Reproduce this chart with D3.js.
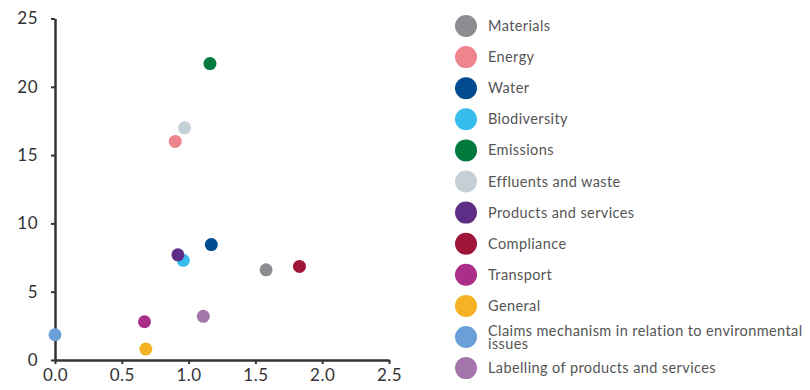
<!DOCTYPE html>
<html><head><meta charset="utf-8">
<script src="https://cdn.jsdelivr.net/npm/d3@7"></script>
<style>body{margin:0;background:#fff;}svg{display:block;}</style>
</head><body>
<svg id="c" width="810" height="390"></svg>
<script>
const categories = ["Materials","Energy","Water","Biodiversity","Emissions","Effluents and waste","Products and services","Compliance","Transport","General","Claims mechanism in relation to environmental issues","Labelling of products and services"];
const xValues = [1.58, 0.90, 1.17, 0.96, 1.16, 0.97, 0.92, 1.83, 0.67, 0.68, 0.00, 1.11];
const yValues = [6.6, 16.0, 8.45, 7.3, 21.7, 17.0, 7.7, 6.85, 2.8, 0.8, 1.85, 3.2];
const colors = ["#8c8d91","#ee848c","#004a8f","#36bdee","#007a3d","#c5d0d6","#5e2e86","#9e1538","#ab2f88","#f4b324","#6a9fd8","#a475ab"];
const legendLines = [["Materials"],["Energy"],["Water"],["Biodiversity"],["Emissions"],["Effluents and waste"],["Products and services"],["Compliance"],["Transport"],["General"],["Claims mechanism in relation to environmental","issues"],["Labelling of products and services"]];
const xTicks = [0,0.5,1,1.5,2,2.5];
const yTicks = [0,5,10,15,20,25];

const svg = d3.select("#c");
const x = d3.scaleLinear().domain([0,2.5]).range([55,389]);
const y = d3.scaleLinear().domain([0,25]).range([360,18.5]);
const font = "Lato, 'DejaVu Sans', sans-serif";

const xa = svg.append("g").attr("transform","translate(0,360)")
  .call(d3.axisBottom(x).tickValues(xTicks).tickFormat(d3.format(".1f")).tickSize(4).tickSizeOuter(0));
const ya = svg.append("g").attr("transform","translate(55,0)")
  .call(d3.axisLeft(y).tickValues(yTicks).tickFormat(d3.format("d")).tickSize(4).tickSizeOuter(0));
[xa,ya].forEach(a=>{
  a.select(".domain").attr("stroke","#333").attr("stroke-width",2.5);
  a.selectAll(".tick line").attr("stroke","#333").attr("stroke-width",2);
  a.selectAll(".tick text").attr("fill","#333").style("font-family",font).style("font-size","17px").style("letter-spacing","0.5px");
});
xa.selectAll(".tick text").attr("dy","0.9em").attr("y",6);
ya.selectAll(".tick text").attr("x",-17);

svg.append("g").selectAll("circle").data(categories).join("circle")
  .attr("cx",(d,i)=>x(xValues[i])).attr("cy",(d,i)=>y(yValues[i]))
  .attr("r",6.5).attr("fill",(d,i)=>colors[i]);

const lg = svg.append("g");
categories.forEach((c,i)=>{
  const cy = 26 + i*31.1;
  lg.append("circle").attr("cx",466).attr("cy",cy).attr("r",11).attr("fill",colors[i]);
  const lines = legendLines[i];
  lines.forEach((l,j)=>{
    lg.append("text").attr("x",488).attr("fill","#555")
      .style("font-family",font).style("font-size","14.5px").style("letter-spacing","0.4px")
      .attr("y", cy + 5 - (lines.length-1)*6.5 + j*13).text(l);
  });
});
</script>
</body></html>
